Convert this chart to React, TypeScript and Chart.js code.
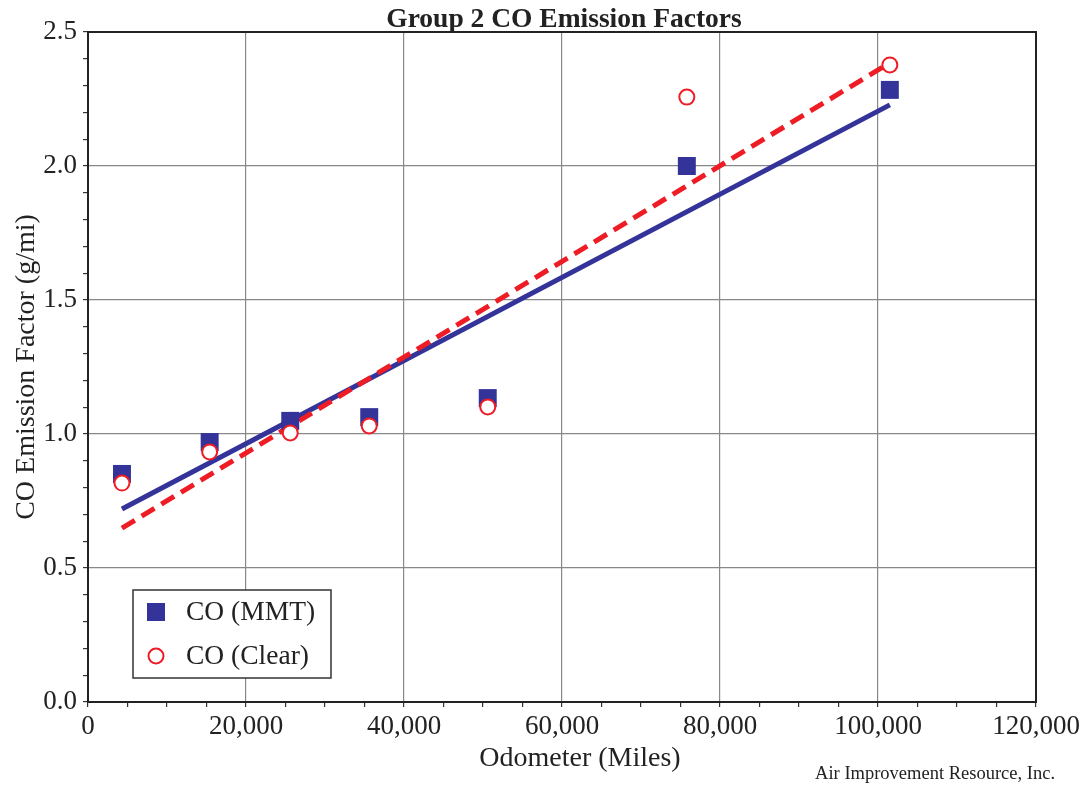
import React, { useEffect, useRef } from "react";
import { Chart, registerables } from "chart.js";

Chart.register(...registerables);

// ---- data ----
const odometerMiles = [4300, 15400, 25600, 35600, 50600, 75800, 101500];
const coMMT = [0.851, 0.97, 1.049, 1.063, 1.134, 2.0, 2.284];
const coClear = [0.817, 0.933, 1.004, 1.03, 1.101, 2.257, 2.377];
const trendX = [4300, 101500];
const trendMMT = [0.72, 2.228];
const trendClear = [0.649, 2.385];
const xTickValues = [0, 20000, 40000, 60000, 80000, 100000, 120000];
const yTickValues = [0.0, 0.5, 1.0, 1.5, 2.0, 2.5];

const BLUE = "#333399";
const RED = "#ee1c25";
const FONT = "'Liberation Serif', 'Times New Roman', serif";

const toPts = (xs: number[], ys: number[]) => xs.map((x, i) => ({ x, y: ys[i] }));

const framePlugin = {
  id: "frame",
  beforeDatasetsDraw(chart: any) {
    const { ctx, chartArea } = chart;
    ctx.save();
    ctx.strokeStyle = "#222";
    ctx.lineWidth = 2;
    ctx.strokeRect(chartArea.left, chartArea.top, chartArea.right - chartArea.left, chartArea.bottom - chartArea.top);
    ctx.restore();
  },
  afterDraw(chart: any) {
    const { ctx, chartArea } = chart;
    ctx.save();
    // title
    ctx.fillStyle = "#222";
    ctx.font = `bold 27.5px ${FONT}`;
    ctx.textAlign = "center";
    ctx.textBaseline = "alphabetic";
    ctx.fillText("Group 2 CO Emission Factors", (chartArea.left + chartArea.right) / 2 + 2, 27);
    // x axis title
    ctx.font = `28px ${FONT}`;
    ctx.textBaseline = "middle";
    ctx.fillText("Odometer (Miles)", 580, 759);
    // credit
    ctx.font = `18.5px ${FONT}`;
    ctx.textAlign = "right";
    ctx.textBaseline = "alphabetic";
    ctx.fillText("Air Improvement Resource, Inc.", 1055, 779);
    // legend
    const lx = 133, ly = 590, lw = 198, lh = 88;
    ctx.fillStyle = "#fff";
    ctx.fillRect(lx, ly, lw, lh);
    ctx.strokeStyle = "#333";
    ctx.lineWidth = 1.5;
    ctx.strokeRect(lx, ly, lw, lh);
    const items = chart.data.datasets.filter((d: any) => d.showInLegend);
    items.forEach((d: any, i: number) => {
      const cy = ly + 22 + i * 44;
      const cx = lx + 23;
      if (d.pointStyle === "rect") {
        ctx.fillStyle = d.backgroundColor;
        ctx.fillRect(cx - 9, cy - 9, 18, 18);
      } else {
        ctx.beginPath();
        ctx.arc(cx, cy, 7.5, 0, Math.PI * 2);
        ctx.fillStyle = "#fff";
        ctx.fill();
        ctx.strokeStyle = d.borderColor;
        ctx.lineWidth = 2;
        ctx.stroke();
      }
      ctx.fillStyle = "#222";
      ctx.font = `27.5px ${FONT}`;
      ctx.textAlign = "left";
      ctx.textBaseline = "middle";
      ctx.fillText(d.label, lx + 53, cy + 1);
    });
    ctx.restore();
  },
};

export default function App() {
  const ref = useRef<HTMLCanvasElement | null>(null);

  useEffect(() => {
    document.body.style.margin = "0";
    if (!ref.current) return;
    const chart = new Chart(ref.current, {
      type: "scatter",
      data: {
        datasets: [
          {
            type: "line",
            label: "MMT trend",
            data: toPts(trendX, trendMMT),
            borderColor: BLUE,
            borderWidth: 5,
            pointRadius: 0,
            fill: false,
            order: 4,
          } as any,
          {
            type: "line",
            label: "Clear trend",
            data: toPts(trendX, trendClear),
            borderColor: RED,
            borderWidth: 5,
            borderDash: [15, 8],
            pointRadius: 0,
            fill: false,
            order: 3,
          } as any,
          {
            label: "CO (MMT)",
            data: toPts(odometerMiles, coMMT),
            pointStyle: "rect",
            pointRadius: 12.7,
            backgroundColor: BLUE,
            borderColor: BLUE,
            borderWidth: 0,
            showInLegend: true,
            order: 2,
          } as any,
          {
            label: "CO (Clear)",
            data: toPts(odometerMiles, coClear),
            pointStyle: "circle",
            pointRadius: 7.5,
            backgroundColor: "#fff",
            borderColor: RED,
            borderWidth: 2,
            showInLegend: true,
            order: 1,
          } as any,
        ],
      },
      options: {
        animation: false,
        responsive: true,
        maintainAspectRatio: false,
        layout: { padding: { top: 32, right: 53, left: 0, bottom: 0 } },
        plugins: { legend: { display: false }, tooltip: { enabled: false }, title: { display: false } },
        scales: {
          x: {
            type: "linear",
            min: 0,
            max: 120000,
            afterFit(scale: any) {
              scale.height = 84;
            },
            afterBuildTicks(scale: any) {
              const t: any[] = [];
              for (let v = 0; v <= 120000; v += 5000) t.push({ value: v });
              scale.ticks = t;
            },
            ticks: {
              autoSkip: false,
              maxRotation: 0,
              padding: 4,
              color: "#222",
              font: { family: FONT, size: 27 },
              callback: (v: any) => (xTickValues.includes(Number(v)) ? Number(v).toLocaleString("en-US") : ""),
            },
            grid: {
              color: (c: any) => (c.tick && xTickValues.includes(c.tick.value) ? "#888" : "rgba(0,0,0,0)"),
              lineWidth: 1.2,
              tickColor: "#333",
              tickLength: 5,
            },
            border: { color: "#222", width: 2 },
            title: { display: false },
          },
          y: {
            type: "linear",
            min: 0,
            max: 2.5,
            afterFit(scale: any) {
              scale.width = 88;
            },
            afterBuildTicks(scale: any) {
              const t: any[] = [];
              for (let i = 0; i <= 25; i++) t.push({ value: i / 10 });
              scale.ticks = t;
            },
            ticks: {
              autoSkip: false,
              padding: 6,
              color: "#222",
              font: { family: FONT, size: 27 },
              callback: (v: any) => {
                const n = Number(v);
                const hit = yTickValues.find((y) => Math.abs(y - n) < 1e-6);
                return hit !== undefined ? hit.toFixed(1) : "";
              },
            },
            grid: {
              color: (c: any) =>
                c.tick && yTickValues.some((y) => Math.abs(y - c.tick.value) < 1e-6) ? "#888" : "rgba(0,0,0,0)",
              lineWidth: 1.2,
              tickColor: "#333",
              tickLength: 5,
            },
            border: { color: "#222", width: 2 },
            title: {
              display: true,
              text: "CO Emission Factor (g/mi)",
              color: "#222",
              font: { family: FONT, size: 28 },
              padding: { top: 10, bottom: 0 },
            },
          },
        },
      },
      plugins: [framePlugin],
    });
    return () => chart.destroy();
  }, []);

  return (
    <div style={{ position: "absolute", left: 0, top: 0, width: 1089, height: 786 }}>
      <canvas ref={ref} />
    </div>
  );
}
